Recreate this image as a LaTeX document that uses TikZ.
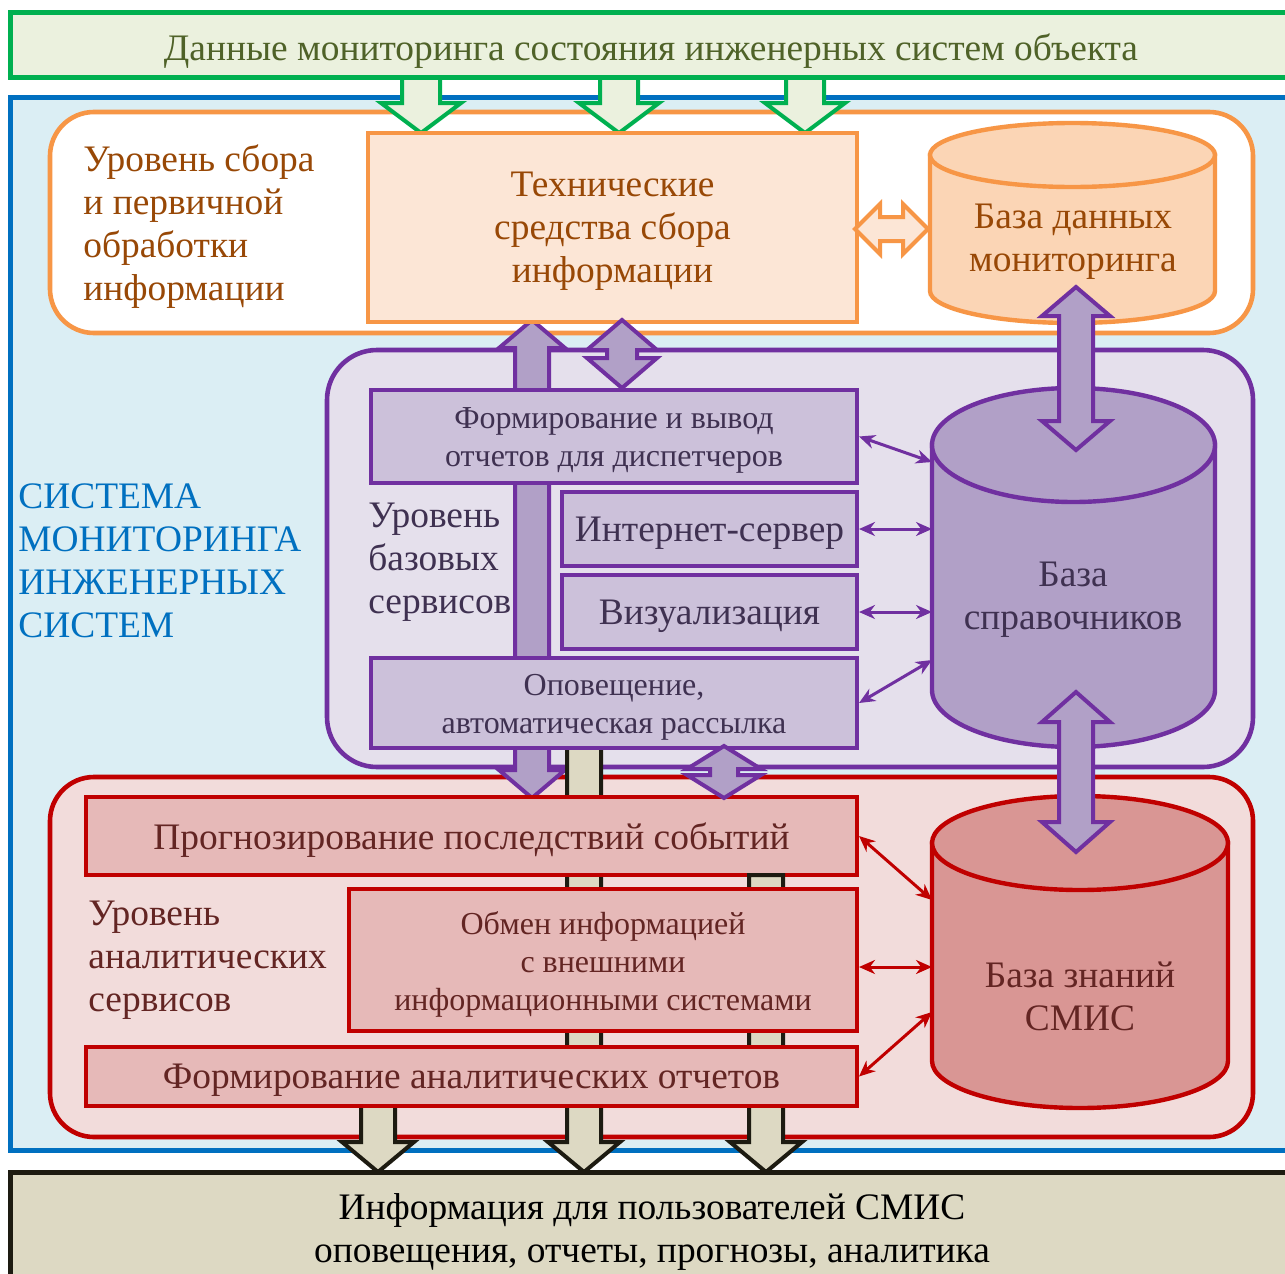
\documentclass[tikz,border=0pt]{standalone}
\usepackage{fontspec}
\setmainfont{Liberation Serif}
\usetikzlibrary{fit,arrows.meta}
\definecolor{greenB}{HTML}{00B050}
\definecolor{greenF}{HTML}{EBF1DE}
\definecolor{greenT}{HTML}{4F6228}
\definecolor{blueB}{HTML}{0070C0}
\definecolor{blueF}{HTML}{DBEEF4}
\definecolor{oranB}{HTML}{F79646}
\definecolor{oranF}{HTML}{FCE6D6}
\definecolor{oranC}{HTML}{FBD5B5}
\definecolor{oranT}{HTML}{984806}
\definecolor{purB}{HTML}{7030A0}
\definecolor{purL}{HTML}{E5E0EC}
\definecolor{purF}{HTML}{CCC1DA}
\definecolor{purC}{HTML}{B1A0C7}
\definecolor{purT}{HTML}{3F3151}
\definecolor{redB}{HTML}{C00000}
\definecolor{redL}{HTML}{F2DCDB}
\definecolor{redF}{HTML}{E6B9B8}
\definecolor{redC}{HTML}{D99694}
\definecolor{redT}{HTML}{632523}
\definecolor{khF}{HTML}{DDD9C3}
\definecolor{khB}{HTML}{1D1B11}
\newcommand{\blkdown}[7]{\draw[#1] ({#2-#5},#3) -- ({#2+#5},#3) -- ({#2+#5},{#4-#7}) -- ({#2+#6},{#4-#7}) -- (#2,#4) -- ({#2-#6},{#4-#7}) -- ({#2-#5},{#4-#7}) -- cycle;}
\newcommand{\blkdbl}[7]{\draw[#1] (#2,#3) -- ({#2+#6},{#3+#7}) -- ({#2+#5},{#3+#7}) -- ({#2+#5},{#4-#7}) -- ({#2+#6},{#4-#7}) -- (#2,#4) -- ({#2-#6},{#4-#7}) -- ({#2-#5},{#4-#7}) -- ({#2-#5},{#3+#7}) -- ({#2-#6},{#3+#7}) -- cycle;}
\newcommand{\blkhdbl}[7]{\draw[#1] (#3,#2) -- ({#3+#7},{#2-#6}) -- ({#3+#7},{#2-#5}) -- ({#4-#7},{#2-#5}) -- ({#4-#7},{#2-#6}) -- (#4,#2) -- ({#4-#7},{#2+#6}) -- ({#4-#7},{#2+#5}) -- ({#3+#7},{#2+#5}) -- ({#3+#7},{#2+#6}) -- cycle;}
\tikzset{
  lvl/.style={line width=2.3pt, rounded corners=22pt},
  bx/.style={draw, line width=2pt, inner sep=0pt},
  big/.style={font=\fontsize{18.7}{21.5}\selectfont},
  small/.style={font=\fontsize{16}{19}\selectfont},
  txt/.style={align=center, inner sep=0pt, yshift=-2pt},
  lbl/.style={anchor=west, align=left, inner sep=0pt, yshift=-1pt},
  barr/.style={line width=2pt, line join=miter},
  thinarr/.style={line width=1.5pt, {Stealth[length=8pt,width=7pt]}-{Stealth[length=8pt,width=7pt]}},
  cylbody/.style={line width=2.2pt},
}
\begin{document}
\begin{tikzpicture}[x=0.5pt,y=-0.5pt]
\useasboundingbox (0,0) rectangle (1285,1274);
\clip (0,0) rectangle (1285,1274);
% outer system
\draw[blueB, fill=blueF, line width=2.5pt] (10,97) rectangle (1300,1150);
\node[big, text=blueB, lbl] (sys) at (18,559) {СИСТЕМА\\МОНИТОРИНГА\\ИНЖЕНЕРНЫХ\\СИСТЕМ};
% levels
\draw[lvl, draw=oranB, fill=white] (50,112) rectangle (1253,333);
\draw[lvl, draw=purB, fill=purL, rounded corners=25pt] (327,350) rectangle (1253,767);
\draw[lvl, draw=redB, fill=redL] (50,777) rectangle (1253,1137);
\node[big, text=oranT, lbl] (lv1) at (83,225) {Уровень сбора\\и первичной\\обработки\\информации};
\node[big, text=purT, lbl] (lv2) at (368,560) {Уровень\\базовых\\сервисов};
\node[big, text=redT, lbl] (lv3) at (88,958) {Уровень\\аналитических\\сервисов};
% green input arrows and top box
\foreach \x in {421,619,805} {\blkdown{barr, draw=greenB, fill=greenF}{\x}{70}{133}{19}{40}{30}}
\draw[greenB, fill=greenF, line width=2.5pt] (10,12) rectangle (1300,77);
\node[big, text=greenT, txt] (top) at (651,47) {Данные мониторинга состояния инженерных систем объекта};
% long purple arrow and khaki bars (behind boxes)
\blkdbl{barr, draw=purB, fill=purC}{532}{320}{798}{17}{33}{28}
\blkdown{barr, draw=khB, fill=khF}{584}{740}{1172}{17}{36}{30}
\blkdown{barr, draw=khB, fill=khF}{378}{1095}{1172}{17}{36}{30}
% collection level
\node[bx, draw=oranB, fill=oranF, fit={(368,133)(857,322)}] (tech) {};
\node[big, text=oranT, txt] (techT) at (tech.center) {Технические\\средства сбора\\информации};
\draw[cylbody, draw=oranB, fill=oranC] (930,155) -- (930,291) arc[start angle=180, end angle=360, x radius=71.25pt, y radius=16pt] -- (1215,155) -- cycle;
\draw[cylbody, draw=oranB, fill=oranC] (1072.5,155) ellipse [x radius=71.25pt, y radius=16pt];
\node[big, text=oranT, txt] (cylO) at (1073,238) {База данных\\мониторинга};
\blkhdbl{barr, draw=oranB, fill=oranF}{229}{855}{928}{12}{25}{25}
% base services
\node[bx, draw=purB, fill=purF, fit={(371,390)(857,483)}] (f1) {};
\node[small, text=purT, txt] (f1T) at (f1.center) {Формирование и вывод\\отчетов для диспетчеров};
\node[bx, draw=purB, fill=purF, fit={(562,492)(857,566)}] (inet) {};
\node[big, text=purT, txt] (inetT) at (inet.center) {Интернет-сервер};
\node[bx, draw=purB, fill=purF, fit={(562,575)(857,649)}] (vis) {};
\node[big, text=purT, txt] (visT) at (vis.center) {Визуализация};
\node[bx, draw=purB, fill=purF, fit={(371,658)(857,748)}] (opov) {};
\node[small, text=purT, txt] (opovT) at (opov.center) {Оповещение,\\автоматическая рассылка};
% analytic services
\node[bx, draw=redB, fill=redF, fit={(86,797)(857,875)}] (prog) {};
\node[big, text=redT, txt] (progT) at (prog.center) {Прогнозирование последствий событий};
\blkdown{barr, draw=khB, fill=khF}{766}{875}{1172}{17}{36}{30}
\node[bx, draw=redB, fill=redF, fit={(349,889)(857,1031)}] (obmen) {};
\node[small, text=redT, txt] (obmenT) at (obmen.center) {Обмен информацией\\с внешними\\информационными системами};
\node[bx, draw=redB, fill=redF, fit={(86,1047)(857,1106)}] (anal) {};
\node[big, text=redT, txt] (analT) at (anal.center) {Формирование аналитических отчетов};
% cylinders
\draw[cylbody, draw=purB, fill=purC] (932,445) -- (932,690) arc[start angle=180, end angle=360, x radius=70.75pt, y radius=28.5pt] -- (1215,445) -- cycle;
\draw[cylbody, draw=purB, fill=purC] (1073.5,445) ellipse [x radius=70.75pt, y radius=28.5pt];
\node[big, text=purT, txt] (cylP) at (1073,596) {База\\справочников};
\draw[cylbody, draw=redB, fill=redC] (932,843) -- (932,1061) arc[start angle=180, end angle=360, x radius=74pt, y radius=23.5pt] -- (1228,843) -- cycle;
\draw[cylbody, draw=redB, fill=redC] (1080,843) ellipse [x radius=74pt, y radius=23.5pt];
\node[big, text=redT, txt] (cylR) at (1080,992) {База знаний\\СМИС};
% purple double block arrows
\blkdbl{barr, draw=purB, fill=purC}{622}{320}{388}{15}{35}{30}
\blkdbl{barr, draw=purB, fill=purC}{724}{746}{798}{14}{37}{23}
\blkdbl{barr, draw=purB, fill=purC}{1076}{287}{450}{17}{34}{29}
\blkdbl{barr, draw=purB, fill=purC}{1076}{692}{852}{17}{34}{30}
% thin connectors
\coordinate (p1) at (932,462);
\coordinate (p4) at (932,660);
\coordinate (r1) at (932,900);
\coordinate (r2) at (932,967);
\coordinate (r3) at (932,1012);
\draw[thinarr, purB] (f1.east) -- (p1);
\draw[thinarr, purB] (inet.east) -- (inet.east -| p1);
\draw[thinarr, purB] (vis.east) -- (vis.east -| p1);
\draw[thinarr, purB] (opov.east) -- (p4);
\draw[thinarr, redB] (prog.east) -- (r1);
\draw[thinarr, redB] (obmen.east |- r2) -- (r2);
\draw[thinarr, redB] (anal.east) -- (r3);
% output box
\draw[khB, fill=khF, line width=2.5pt] (10,1172) rectangle (1300,1300);
\node[big, text=black, txt] (out) at (652,1228) {Информация для пользователей СМИС\\оповещения, отчеты, прогнозы, аналитика};
\end{tikzpicture}
\end{document}
